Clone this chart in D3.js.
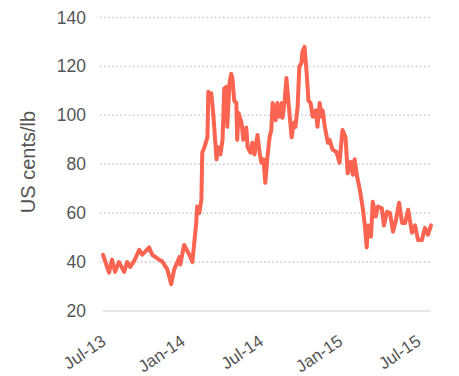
<!DOCTYPE html>
<html><head><meta charset="utf-8">
<script src="https://cdn.jsdelivr.net/npm/d3@7/dist/d3.min.js"></script>
<style>body{margin:0;background:#fff}svg{display:block}text{font-family:"Liberation Sans",Arial,sans-serif;fill:#555}</style>
</head><body><svg id="c" width="459" height="376"></svg>
<script>
const dates = ["2013-07-01","2013-07-15","2013-07-22","2013-07-29","2013-08-07","2013-08-19","2013-08-26","2013-09-02","2013-09-11","2013-09-23","2013-09-30","2013-10-16","2013-10-23","2013-11-08","2013-11-15","2013-11-27","2013-12-06","2013-12-13","2013-12-25","2013-12-27","2014-01-05","2014-01-17","2014-01-24","2014-02-02","2014-02-04","2014-02-09","2014-02-14","2014-02-16","2014-02-21","2014-02-28","2014-03-02","2014-03-07","2014-03-09","2014-03-14","2014-03-21","2014-03-25","2014-03-30","2014-04-04","2014-04-08","2014-04-13","2014-04-15","2014-04-20","2014-04-24","2014-04-27","2014-05-01","2014-05-06","2014-05-08","2014-05-11","2014-05-18","2014-05-22","2014-05-29","2014-06-01","2014-06-08","2014-06-12","2014-06-17","2014-06-24","2014-06-29","2014-07-03","2014-07-08","2014-07-12","2014-07-17","2014-07-22","2014-07-26","2014-07-29","2014-08-05","2014-08-09","2014-08-14","2014-08-19","2014-08-21","2014-08-26","2014-08-30","2014-09-04","2014-09-11","2014-09-16","2014-09-20","2014-09-25","2014-09-29","2014-10-04","2014-10-06","2014-10-11","2014-10-16","2014-10-20","2014-10-25","2014-10-30","2014-11-06","2014-11-10","2014-11-15","2014-11-20","2014-11-22","2014-11-27","2014-12-04","2014-12-08","2014-12-15","2014-12-24","2014-12-31","2015-01-07","2015-01-14","2015-01-19","2015-01-26","2015-01-31","2015-02-04","2015-02-09","2015-02-16","2015-02-23","2015-02-28","2015-03-04","2015-03-07","2015-03-14","2015-03-18","2015-03-25","2015-03-30","2015-04-08","2015-04-13","2015-04-20","2015-04-27","2015-05-04","2015-05-11","2015-05-18","2015-05-25","2015-06-01","2015-06-08","2015-06-17","2015-06-24","2015-07-01","2015-07-10","2015-07-17","2015-07-24","2015-07-31"];
const prices = [43,35.7,41,36,40,36,40,38,40.4,45,43,46,43,41,40.3,37,31,37,42,39,47,43,40,56,62.7,60,65.5,84.7,87,91,109.6,107.6,109,99.4,82,87,84,90,111,111.6,95.3,113,117,115,106,105,90,101,97,90,95,87,84.7,88.8,84,92,84.7,80.6,82,72.4,83,91,94,105,98,105,99.4,105,99,106,115.3,105,91,97,95.3,103.5,120,121.4,126,128,117,106,105,99.4,102,95.3,105,99.4,102,95.3,88.8,90,86,85,80.6,94,91,76.3,81,75.7,82,75.7,69.6,62,54.5,46,55,50.4,64.7,58.6,62.7,62,55,60.6,60,52.4,57.3,64.3,56,56,61.4,52,55,49,49,54,51.2,55];
const yTicks = [20,40,60,80,100,120,140];
const xTickDates = ["2013-07-01","2014-01-01","2014-07-01","2015-01-01","2015-07-01"];
const xTickLabels = ["Jul-13","Jan-14","Jul-14","Jan-15","Jul-15"];
const yTitle = "US cents/lb";

const parse = d3.timeParse("%Y-%m-%d");
const data = dates.map((d,i)=>({date:parse(d), v:prices[i]}));
const svg = d3.select("#c");
const x = d3.scaleTime().domain([parse("2013-07-01"), parse("2015-07-31")]).range([103, 431]);
const y = d3.scaleLinear().domain([20,140]).range([311, 17.5]);

// grid
svg.append("g").selectAll("line").data(yTicks.filter(t=>t>20)).join("line")
  .attr("x1",100).attr("x2",431).attr("y1",d=>y(d)).attr("y2",d=>y(d))
  .attr("stroke","#c8c8c8").attr("stroke-width",1.5).attr("stroke-dasharray","1.5,2.6");
svg.append("line").attr("x1",103).attr("x2",431).attr("y1",y(20)).attr("y2",y(20))
  .attr("stroke","#d0d0d0").attr("stroke-width",1.2);

// y labels
svg.append("g").selectAll("text").data(yTicks).join("text")
  .attr("x",86).attr("y",d=>y(d)+6).attr("text-anchor","end").attr("font-size",17.5).text(d=>d);
svg.append("text").attr("transform","translate(35,162) rotate(-90)").attr("text-anchor","middle")
  .attr("font-size",20).text(yTitle);

// x labels
svg.append("g").selectAll("text").data(xTickDates).join("text")
  .attr("transform",d=>`translate(${x(parse(d))+4},344) rotate(-34)`)
  .attr("text-anchor","end").attr("font-size",17).text((d,i)=>xTickLabels[i]);

// line
svg.append("path").datum(data).attr("fill","none").attr("stroke","#fa6450")
  .attr("stroke-width",4).attr("stroke-linejoin","round").attr("stroke-linecap","round")
  .attr("d", d3.line().x(d=>x(d.date)).y(d=>y(d.v)));
</script></body></html>
